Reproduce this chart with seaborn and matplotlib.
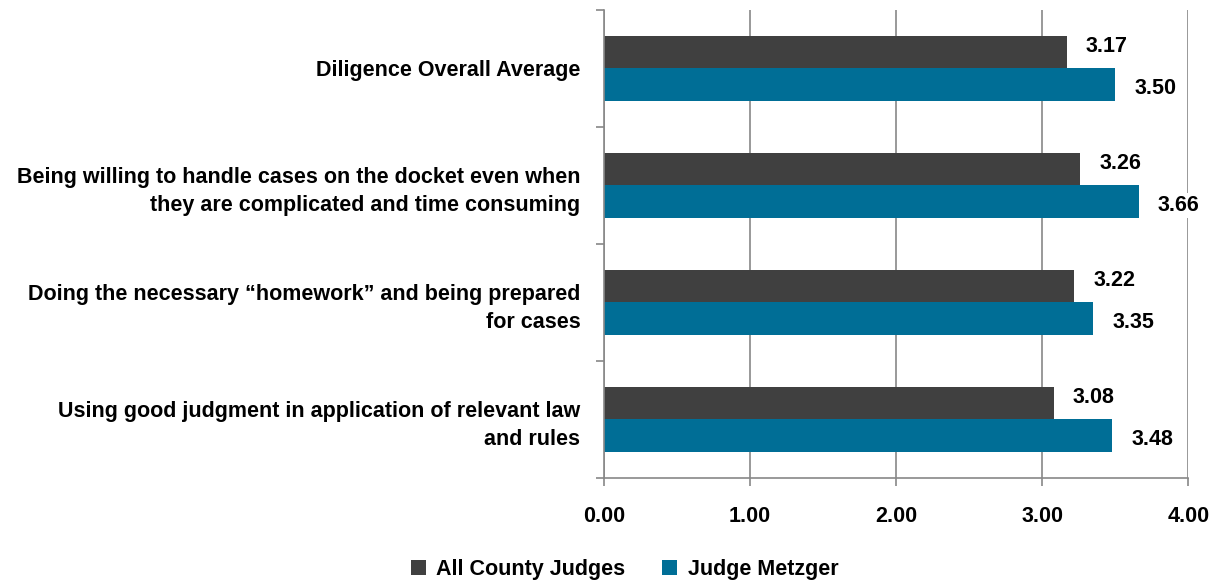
import matplotlib
matplotlib.use('Agg')
import matplotlib.pyplot as plt
import seaborn as sns
import pandas as pd
import numpy as np

categories = [
    'Diligence Overall Average',
    'Being willing to handle cases on the docket even when\nthey are complicated and time consuming',
    'Doing the necessary \u201chomework\u201d and being prepared\nfor cases',
    'Using good judgment in application of relevant law\nand rules',
]
series = ['All County Judges', 'Judge Metzger']
all_county = [3.17, 3.26, 3.22, 3.08]
metzger = [3.50, 3.66, 3.35, 3.48]
xticks = [0, 1, 2, 3, 4]
colors = ['#404040', '#006E96']

df = pd.DataFrame({
    'category': categories * 2,
    'series': [series[0]] * 4 + [series[1]] * 4,
    'value': all_county + metzger,
})

sns.set_style('white')
plt.rcParams['font.family'] = ['Liberation Sans', 'DejaVu Sans']
plt.rcParams['font.weight'] = 'bold'
plt.rcParams['text.color'] = 'black'
plt.rcParams['xtick.color'] = 'black'
plt.rcParams['ytick.color'] = 'black'

fig = plt.figure(figsize=(12.2, 5.82), dpi=100)
ax = fig.add_axes([0.495, 0.179, 0.479, 0.804])

sns.barplot(data=df, y='category', x='value', hue='series', order=categories,
            hue_order=series, palette=colors, orient='h', width=0.56,
            saturation=1, linewidth=0, ax=ax, legend=True)

# value labels (gray label sits a little above its bar centre)
offsets = [-0.05, 0.03]
for cont, dy in zip(ax.containers, offsets):
    for rect in cont:
        w = rect.get_width()
        ax.text(w + 0.13, rect.get_y() + rect.get_height() / 2 + dy, f'{w:.2f}',
                ha='left', va='center', fontsize=15.5, fontweight='bold',
                color='black',
                bbox=dict(facecolor='white', edgecolor='none', pad=1.5))

ax.set_xlim(0, 4)
ax.set_ylim(3.5, -0.5)
ax.set_xticks(xticks)
ax.set_xticklabels([f'{v:.2f}' for v in xticks], fontsize=15.5, fontweight='bold')
ax.tick_params(axis='x', bottom=True, length=6, width=1.2, color='#888888',
               labelcolor='black', pad=14)
ax.set_yticks(range(len(categories)))
ax.set_yticklabels(categories, fontsize=15.5, fontweight='bold', ha='right',
                   linespacing=1.45)
ax.tick_params(axis='y', which='major', left=False, length=0, pad=17,
               labelcolor='black')
ax.set_yticks(np.arange(-0.5, 4, 1), minor=True)
ax.tick_params(axis='y', which='minor', left=True, length=6, width=1.2,
               color='#888888')
ax.grid(axis='x', color='#888888', linewidth=1.2)
ax.set_axisbelow(True)
ax.set_xlabel('')
ax.set_ylabel('')
for s in ['top', 'right']:
    ax.spines[s].set_visible(False)
for s in ['left', 'bottom']:
    ax.spines[s].set_color('#888888')
    ax.spines[s].set_linewidth(1.2)

ax.get_legend().remove()
handles, labels = ax.get_legend_handles_labels()
fig.legend(handles[:2], labels[:2], loc='lower center', bbox_to_anchor=(0.512, -0.012),
           ncol=2, frameon=False, handlelength=0.7, handleheight=0.7,
           handletextpad=0.5, columnspacing=1.7, borderaxespad=0.0,
           prop={'weight': 'bold', 'size': 15.5})

fig.savefig('out.png', dpi=100)
